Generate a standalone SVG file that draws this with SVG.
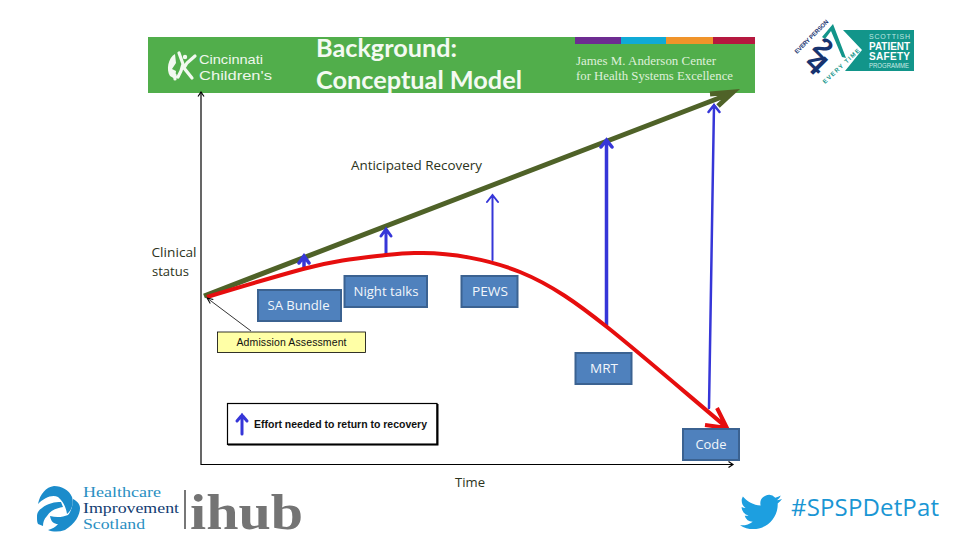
<svg xmlns="http://www.w3.org/2000/svg" width="960" height="540" viewBox="0 0 960 540">
<defs>
<style>
text{font-family:"Open Sans","Liberation Sans",sans-serif}
.box{fill:#4f81bd;stroke:#3b6291;stroke-width:2}
.bl{fill:#f2f6fb;font-size:13px;text-anchor:middle}
.lab{fill:#2c3320;font-size:13px}
.blue{fill:none;stroke:#3636d8;stroke-linecap:round}
.blk{fill:none;stroke:#000}
.serif{font-family:"Liberation Serif",serif;fill:#dff0da;font-size:11.500px}
.sans{font-family:"Liberation Sans",sans-serif}
.his{font-family:"Liberation Serif",serif;font-size:14px}
</style>
<marker id="ah" markerUnits="userSpaceOnUse" markerWidth="12" markerHeight="12" refX="9" refY="5" orient="auto"><path d="M4.500 2 9 5 4.500 8" fill="none" stroke="#000" stroke-width="1.200"/></marker>
<marker id="ahs" markerUnits="userSpaceOnUse" markerWidth="10" markerHeight="10" refX="8" refY="4" orient="auto"><path d="M2 1.500 8 4 2 6.500" fill="none" stroke="#000" stroke-width="1"/></marker>
</defs>
<rect width="960" height="540" fill="#fff"/>

<g id="banner">
<rect x="148" y="37" width="607" height="56" fill="#51ae4b"/>
<rect x="575" y="37" width="46" height="7" fill="#6d2c91"/>
<rect x="621" y="37" width="45" height="7" fill="#10aad6"/>
<rect x="666" y="37" width="47" height="7" fill="#f0942a"/>
<rect x="713" y="37" width="42" height="7" fill="#b5183f"/>
<text x="316" y="57" font-size="25" font-weight="700" fill="#f4faf2" style="font-family:Lato,'Open Sans',sans-serif" textLength="141" lengthAdjust="spacingAndGlyphs">Background:</text>
<text x="316" y="89" font-size="25" font-weight="700" fill="#f4faf2" style="font-family:Lato,'Open Sans',sans-serif" textLength="206" lengthAdjust="spacingAndGlyphs">Conceptual Model</text>
<text class="serif" x="576" y="65" textLength="140" lengthAdjust="spacingAndGlyphs">James M. Anderson Center</text>
<text class="serif" x="576" y="80" textLength="157" lengthAdjust="spacingAndGlyphs">for Health Systems Excellence</text>
</g>

<g id="cincinnati-logo">
<path d="M175 54C168 58 166 70 170 76L175 79 176 71 172 69 176 63Z" fill="#f2f9f0"/>
<path d="M179 53 183 64 181 71 178 77M195 56 187 63 184 68 192 78M175 75 175 79" fill="none" stroke="#f2f9f0" stroke-width="3.200" stroke-linecap="round"/>
<circle cx="185" cy="57" r="2.200" fill="#f2f9f0"/>
<text x="199" y="64" font-size="13" fill="#eef7ec" class="sans" textLength="64" lengthAdjust="spacingAndGlyphs">Cincinnati</text>
<text x="199" y="80" font-size="13.500" fill="#eef7ec" class="sans" textLength="73" lengthAdjust="spacingAndGlyphs">Children's</text>
</g>

<g id="spsp-logo">
<path d="M843 30H914V71H845L862 50Z" fill="#12958a"/>
<text class="sans" x="869" y="39" font-size="7" fill="#bfe6e0" textLength="41">SCOTTISH</text>
<text class="sans" x="869" y="50" font-size="10" font-weight="700" fill="#fff" textLength="41" lengthAdjust="spacingAndGlyphs">PATIENT</text>
<text class="sans" x="869" y="60" font-size="10" font-weight="700" fill="#fff" textLength="41">SAFETY</text>
<text class="sans" x="869" y="68" font-size="6.500" fill="#cdebe6" textLength="40" lengthAdjust="spacingAndGlyphs">PROGRAMME</text>
<path d="M822 37 833 24 846 58 842 57 831 31 825 39Z" fill="#12958a"/>
<text class="sans" font-size="27" font-weight="700" fill="#17336f" text-anchor="middle" y="10" transform="translate(824 47) rotate(45)">2</text>
<text class="sans" font-size="31" font-weight="700" fill="#17336f" text-anchor="middle" y="11" transform="translate(817 63) rotate(45)">4</text>
<text class="sans" font-size="6" font-weight="700" fill="#17336f" transform="translate(797 54) rotate(-45)" textLength="45">EVERY PERSON</text>
<text class="sans" font-size="6" font-weight="700" fill="#12958a" transform="translate(825 84) rotate(-43)" textLength="48">EVERY TIME</text>
</g>

<g id="connectors">
<path class="blk" d="M201 465V92" stroke-width="1.200" marker-end="url(#ah)"/>
<path class="blk" d="M201 464.500H733" stroke-width="1.200" marker-end="url(#ah)"/>
<path d="M204 296 727 95M710 94 733 92 718 106" fill="none" stroke="#4f6228" stroke-width="5"/>
<path class="blue" stroke-width="3.500" d="M304 268V256M299 263 304 256 309 263"/>
<path class="blue" stroke-width="3" d="M386 254V229M381 236 386 229 391 236"/>
<path class="blue" stroke-width="2" d="M492.500 260V195M487 202 492.500 195 498 202"/>
<path class="blue" stroke-width="3.500" d="M606.500 325V140M601 147 606.500 140 612 147"/>
<path class="blue" stroke-width="2.500" d="M709 408 714 105M708.500 112 714 105 719.500 112"/>
<path d="M207 297C240 287 270 278 303 269S360 258 386 255 410 253 423 253C450 253 488 259 520 272S578 304 607 327 680 388 725 426M705 425 727 428 717 408" fill="none" stroke="#e60e0e" stroke-width="4"/>
<path class="blk" d="M251 331 207 298" stroke-width="0.800" marker-end="url(#ahs)"/>
</g>

<g id="anticipated"><text class="lab" x="351" y="170" textLength="131" lengthAdjust="spacingAndGlyphs">Anticipated Recovery</text></g>
<g id="clinical"><text class="lab" x="151.500" y="257" textLength="45" lengthAdjust="spacingAndGlyphs">Clinical</text><text class="lab" x="152" y="276" textLength="37" lengthAdjust="spacingAndGlyphs">status</text></g>
<g id="time"><text class="lab" x="455" y="487" textLength="30" lengthAdjust="spacingAndGlyphs">Time</text></g>

<g id="sa-bundle"><rect class="box" x="258" y="290" width="83" height="31"/><text class="bl" x="298.500" y="310" textLength="62" lengthAdjust="spacingAndGlyphs">SA Bundle</text></g>
<g id="night-talks"><rect class="box" x="344.500" y="276" width="82.500" height="31"/><text class="bl" x="386" y="296" textLength="65" lengthAdjust="spacingAndGlyphs">Night talks</text></g>
<g id="pews"><rect class="box" x="461.500" y="276" width="56" height="31"/><text class="bl" x="490" y="296" textLength="36" lengthAdjust="spacingAndGlyphs">PEWS</text></g>
<g id="mrt"><rect class="box" x="575.500" y="353" width="56" height="31"/><text class="bl" x="604" y="373" textLength="28" lengthAdjust="spacingAndGlyphs">MRT</text></g>
<g id="code"><rect class="box" x="683" y="429" width="56" height="31"/><text class="bl" x="711" y="449" textLength="31" lengthAdjust="spacingAndGlyphs">Code</text></g>

<g id="admission"><rect x="217.500" y="332" width="148" height="20.500" fill="#ffffa6" stroke="#000" stroke-width="0.800"/><text x="291.500" y="346" font-size="10.500" fill="#111" text-anchor="middle" class="sans" textLength="110">Admission Assessment</text></g>

<g id="legend">
<rect x="227.500" y="403.500" width="209.500" height="41" fill="#fff" stroke="#000" stroke-width="1.200"/>
<path d="M228 444.500H437.500V404" fill="none" stroke="#000" stroke-width="2"/>
<path class="blue" stroke-width="3" d="M242 434V415M237 421 242 415 247 421"/>
<text class="sans" x="254" y="428" font-size="10.500" font-weight="700" fill="#111" textLength="173" lengthAdjust="spacingAndGlyphs">Effort needed to return to recovery</text>
</g>

<g id="his-logo" fill="#1b8ccb">
<path d="M38 504C40 494 46 487 54 486 62 486 69 490 72 497 74 503 72 510 67 514 66 507 63 501 58 497 52 494 44 498 38 504Z"/>
<path d="M37 517C37 512 39 510 42 508 48 503 55 502 61 502L63 507C56 508 50 511 47 516 44 519 43 522 43 526L38 524C37 522 37 520 37 517Z"/>
<path d="M50 516C57 518 63 517 68 515 71 512 73 505 73 499 77 501 80 504 80 508 80 515 75 524 65 530 59 532 53 532 48 530 52 529 56 527 58 524 54 524 51 522 50 516Z"/>
<text class="his" x="83" y="497" fill="#2a8fc2" textLength="78" lengthAdjust="spacingAndGlyphs">Healthcare</text>
<text class="his" x="83" y="513" fill="#123c72" textLength="96" lengthAdjust="spacingAndGlyphs">Improvement</text>
<text class="his" x="83" y="529" fill="#2a8fc2" textLength="62" lengthAdjust="spacingAndGlyphs">Scotland</text>
<rect x="184" y="490" width="2" height="39" fill="#777"/>
<text x="190" y="529" font-size="50" font-weight="700" fill="#747474" style="font-family:'Liberation Serif',serif" textLength="113" lengthAdjust="spacingAndGlyphs">ihub</text>
</g>

<g id="twitter">
<path transform="translate(740 491) scale(1.750)" fill="#1d9fe0" d="M23.953 4.570a10 10 0 01-2.825.775 4.958 4.958 0 002.163-2.723c-.951.555-2.005.959-3.127 1.184a4.920 4.920 0 00-8.384 4.482C7.690 8.095 4.067 6.130 1.640 3.162a4.822 4.822 0 00-.666 2.475c0 1.710.870 3.213 2.188 4.096a4.904 4.904 0 01-2.228-.616v.060a4.923 4.923 0 003.946 4.827 4.996 4.996 0 01-2.212.085 4.936 4.936 0 004.604 3.417 9.867 9.867 0 01-6.102 2.105c-.390 0-.779-.023-1.170-.067a13.995 13.995 0 007.557 2.209c9.053 0 13.998-7.496 13.998-13.985 0-.210 0-.420-.015-.630A9.935 9.935 0 0024 4.590z"/>
<text x="791" y="516" font-size="24" fill="#1a96d4" textLength="148" lengthAdjust="spacing">#SPSPDetPat</text>
</g>
</svg>
